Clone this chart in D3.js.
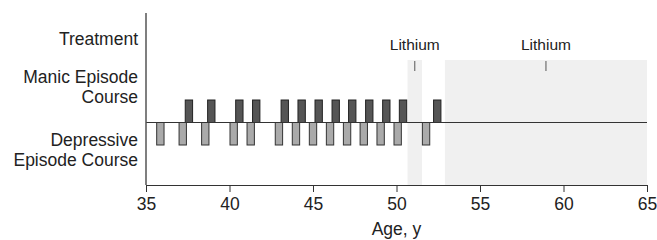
<!DOCTYPE html>
<html>
<head>
<meta charset="utf-8">
<script src="https://cdn.jsdelivr.net/npm/d3@7"></script>
<style>
  body { margin: 0; background: #fff; }
  svg text { font-family: "Liberation Sans", Arial, sans-serif; fill: #222; }
</style>
</head>
<body>
<div id="chart"></div>
<script>
// episode ages (center of each episode), years
const manicEpisodes = [37.57, 38.91, 40.59, 41.60, 43.31, 44.32, 45.34, 46.36, 47.35, 48.37, 49.39, 50.39, 52.44]
const depressiveEpisodes = [35.86, 37.20, 38.55, 40.25, 41.27, 42.96, 43.98, 45.00, 46.02, 47.04, 48.04, 49.05, 50.07, 51.77]
// lithium treatment periods [start, end]
const lithiumPeriods = [[50.66, 51.53], [52.9, 65]]
const treatmentLabel = 'Lithium'
const xTicks = [35, 40, 45, 50, 55, 60, 65]
const rowLabels = [
  { lines: ['Treatment'], y: 45 },
  { lines: ['Manic Episode', 'Course'], y: 83 },
  { lines: ['Depressive', 'Episode Course'], y: 146 }
]

const width = 657, height = 240
const margin = { top: 13, right: 10, bottom: 55, left: 146 }
const episodeWidth = 0.44

const svg = d3.select('#chart').append('svg')
  .attr('width', width).attr('height', height)

const x = d3.scaleLinear().domain([35, 65]).range([margin.left, 647])
// +1 = manic peak, -1 = depressive trough
const y = d3.scaleLinear().domain([-1, 1]).range([145, 100])
const baseY = 185

// treatment shading
svg.append('g').selectAll('rect')
  .data(lithiumPeriods)
  .join('rect')
  .attr('x', d => x(d[0]))
  .attr('width', d => x(d[1]) - x(d[0]))
  .attr('y', 60)
  .attr('height', baseY - 60)
  .attr('fill', '#f0f0f0')

// treatment labels
const lab = svg.append('g').selectAll('g')
  .data(lithiumPeriods)
  .join('g')
  .attr('transform', d => `translate(${x((d[0] + d[1]) / 2)},0)`)
lab.append('line')
  .attr('y1', 61).attr('y2', 71)
  .attr('stroke', '#555').attr('stroke-width', 1)
lab.append('text')
  .attr('y', 50)
  .attr('text-anchor', 'middle')
  .attr('font-size', '15.5px')
  .text(treatmentLabel)

// manic bars
svg.append('g').selectAll('rect')
  .data(manicEpisodes)
  .join('rect')
  .attr('x', d => x(d - episodeWidth / 2))
  .attr('width', d => x(d + episodeWidth / 2) - x(d - episodeWidth / 2))
  .attr('y', y(1))
  .attr('height', y(0) - y(1))
  .attr('fill', '#555')
  .attr('stroke', '#222')
  .attr('stroke-width', 1)

// depressive bars
svg.append('g').selectAll('rect')
  .data(depressiveEpisodes)
  .join('rect')
  .attr('x', d => x(d - episodeWidth / 2))
  .attr('width', d => x(d + episodeWidth / 2) - x(d - episodeWidth / 2))
  .attr('y', y(0))
  .attr('height', y(-1) - y(0))
  .attr('fill', '#aaa')
  .attr('stroke', '#333')
  .attr('stroke-width', 1)

// midline
svg.append('line')
  .attr('x1', x(35)).attr('x2', x(65))
  .attr('y1', y(0)).attr('y2', y(0))
  .attr('stroke', '#333').attr('stroke-width', 1.2)

// vertical axis line
svg.append('line')
  .attr('x1', x(35)).attr('x2', x(35))
  .attr('y1', margin.top).attr('y2', baseY)
  .attr('stroke', '#555').attr('stroke-width', 1.5)

// x axis
const xAxis = svg.append('g')
  .attr('transform', `translate(0,${baseY})`)
  .call(d3.axisBottom(x).tickValues(xTicks).tickSize(7).tickSizeOuter(0).tickPadding(6))
xAxis.select('.domain').attr('stroke', '#333').attr('stroke-width', 1.2)
xAxis.selectAll('.tick line').attr('stroke', '#333')
xAxis.selectAll('.tick text')
  .attr('font-size', '17.5px')
  .attr('font-family', '"Liberation Sans", Arial, sans-serif')
  .attr('fill', '#222')

svg.append('text')
  .attr('x', (x(35) + x(65)) / 2)
  .attr('y', 235)
  .attr('text-anchor', 'middle')
  .attr('font-size', '17.5px')
  .text('Age, y')

// row labels
const rows = svg.append('g').selectAll('text')
  .data(rowLabels)
  .join('text')
  .attr('x', 138)
  .attr('y', d => d.y)
  .attr('text-anchor', 'end')
  .attr('font-size', '17.5px')
rows.selectAll('tspan')
  .data(d => d.lines)
  .join('tspan')
  .attr('x', 138)
  .attr('dy', (d, i) => i === 0 ? 0 : 20)
  .text(d => d)
</script>
</body>
</html>
